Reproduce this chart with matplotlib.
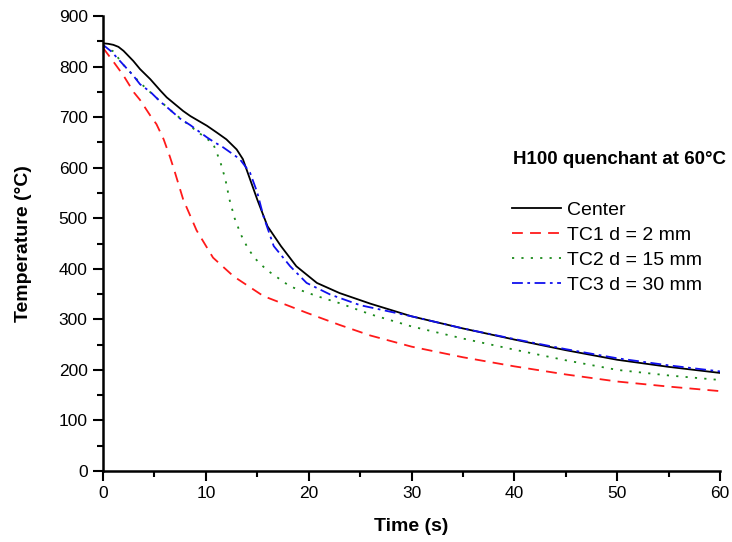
import matplotlib
matplotlib.use("Agg")
import matplotlib.pyplot as plt
from matplotlib.ticker import MultipleLocator

plt.rcParams['font.family'] = ['Liberation Sans', 'DejaVu Sans']

center_t = [0, 0.5, 1.0, 1.5, 2.0, 2.95, 3.6, 4.6, 5.6, 6.2, 7.8, 8.5, 10.1, 11.1, 12.0, 13.0, 13.6, 14.3, 15.0, 16.0, 17.3, 18.8, 20.8, 23, 26, 30, 35, 40, 45, 50, 55, 60]
center_T = [846, 845, 843, 839, 831, 811, 795, 775, 752, 739, 712, 702, 683, 669, 656, 636, 617, 577, 537, 484, 445, 405, 372, 352, 331, 306, 282, 260, 239, 220, 206, 194]

tc1_t = [0, 1, 2, 3, 3.6, 4.6, 5.2, 5.9, 6.5, 6.9, 7.8, 9.1, 10.7, 12.7, 15.6, 19.8, 23, 26, 30, 35, 40, 45, 50, 55, 60]
tc1_T = [837, 810, 782, 749, 734, 703, 686, 656, 622, 597, 537, 476, 422, 385, 346, 313, 289, 268, 246, 225, 207, 191, 177, 167, 158]

tc2_t = [0, 1, 2, 3.6, 5.2, 7, 9, 10.7, 11.4, 11.9, 12.3, 12.8, 13.4, 14.1, 14.8, 15.9, 18.2, 20.8, 23, 26, 30, 35, 40, 45, 50, 55, 60]
tc2_T = [840, 830, 803, 768, 738, 706, 674, 648, 612, 577, 537, 500, 468, 440, 420, 398, 365, 346, 332, 310, 286, 262, 240, 219, 200, 189, 180]

tc3_t = [0, 0.8, 1.65, 2.95, 3.6, 4.6, 5.6, 6.2, 7.5, 8.5, 10.1, 10.7, 11.7, 13.3, 14.3, 15.0, 15.6, 16.6, 18.2, 19.8, 22.1, 25, 30, 35, 40, 45, 50, 55, 60]
tc3_T = [843, 830, 811, 782, 765, 750, 730, 720, 697, 684, 660, 652, 640, 617, 590, 551, 504, 445, 405, 372, 349, 328, 306, 282, 261, 241, 223, 209, 197]

labels = ["Center", "TC1 d = 2 mm", "TC2 d = 15 mm", "TC3 d = 30 mm"]

fig = plt.figure(figsize=(7.32, 5.42), dpi=100)
ax = fig.add_axes([103/732, 71/542, 617/732, 455/542])

lw = 1.3
ax.plot(center_t, center_T, color='black', lw=lw, label=labels[0])
ax.plot(tc1_t, tc1_T, color='#ff1a1a', lw=lw, dashes=(6, 4), label=labels[1])
ax.plot(tc2_t, tc2_T, color='#1a8a1a', lw=lw, dashes=(1.2, 4), label=labels[2])
ax.plot(tc3_t, tc3_T, color='#1010ee', lw=lw, dashes=(6, 2.5, 1.5, 2.5), label=labels[3])

ax.set_xlim(0, 60)
ax.set_ylim(0, 900)
ax.xaxis.set_major_locator(MultipleLocator(10))
ax.xaxis.set_minor_locator(MultipleLocator(5))
ax.yaxis.set_major_locator(MultipleLocator(100))
ax.yaxis.set_minor_locator(MultipleLocator(50))
for s in ['top', 'right']:
    ax.spines[s].set_visible(False)
for s in ['left', 'bottom']:
    ax.spines[s].set_linewidth(1.8)
ax.tick_params(which='major', direction='out', length=7, width=1.5, labelsize=12.5, pad=4)
ax.tick_params(which='minor', direction='out', length=4, width=1.5)

ax.set_xlabel("Time (s)", fontsize=14, fontweight='bold', labelpad=12)
ax.set_ylabel("Temperature (°C)", fontsize=14, fontweight='bold', labelpad=19)

fig.text(513/732, 1 - 159/542, "H100 quenchant at 60°C", fontsize=13.5, fontweight='bold',
         ha='left', va='center')

ax.legend(loc='upper left', bbox_to_anchor=(512/732, 1 - 201/542), bbox_transform=fig.transFigure,
          frameon=False, borderpad=0, borderaxespad=0, fontsize=14, handlelength=2.5,
          handletextpad=0.35, labelspacing=0.38)

fig.savefig("out.png", dpi=100)
